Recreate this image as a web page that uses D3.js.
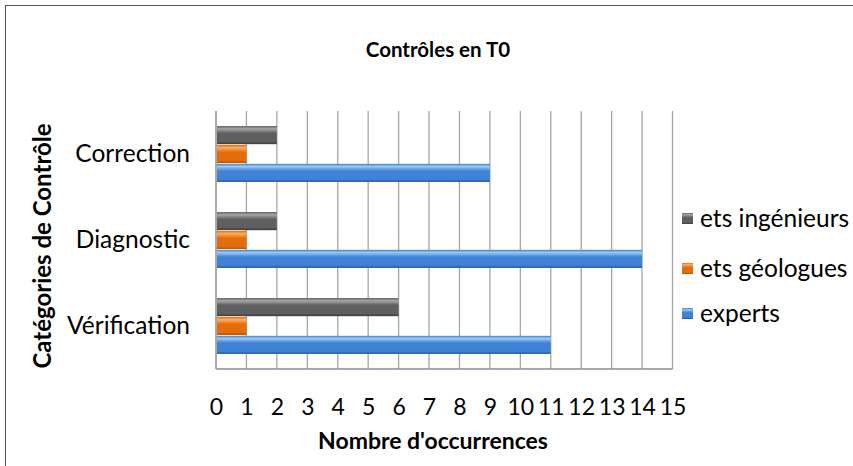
<!DOCTYPE html>
<html>
<head>
<meta charset="utf-8">
<script src="https://cdn.jsdelivr.net/npm/d3@7"></script>
<style>
body { margin: 0; background: #fff; }
text { font-family: Lato, "Open Sans", sans-serif; fill: #000; }
</style>
</head>
<body>
<script>
// data
var categories = ["Correction", "Diagnostic", "Vérification"];
var series = ["ets ingénieurs", "ets géologues", "experts"];
var ingenieurs = [2, 2, 6];
var geologues = [1, 1, 1];
var experts = [9, 14, 11];
var xTicks = [0,1,2,3,4,5,6,7,8,9,10,11,12,13,14,15];

var values = [ingenieurs, geologues, experts];
var colors = [
	{id: "g0", top: "#a6a6a6", mid: "#5f5f5f", bot: "#3a3a3a"},
	{id: "g1", top: "#fbb060", mid: "#e46c0a", bot: "#b35306"},
	{id: "g2", top: "#9cc8f6", mid: "#3f82d6", bot: "#28579c"}
];

var W = 853, H = 466;
var svg = d3.select("body").append("svg")
	.attr("width", W)
	.attr("height", H);

// outer frame
svg.append("rect")
	.attr("x", 5.5).attr("y", 5.5)
	.attr("width", W).attr("height", H)
	.style("fill", "none").style("stroke", "#555").style("stroke-width", 1);

var defs = svg.append("defs");
colors.forEach(function(c) {
	var g = defs.append("linearGradient").attr("id", c.id)
		.attr("x1", 0).attr("y1", 0).attr("x2", 0).attr("y2", 1);
	g.append("stop").attr("offset", "0%").attr("stop-color", c.mid);
	g.append("stop").attr("offset", "15%").attr("stop-color", c.top);
	g.append("stop").attr("offset", "40%").attr("stop-color", c.mid);
	g.append("stop").attr("offset", "85%").attr("stop-color", c.mid);
	g.append("stop").attr("offset", "100%").attr("stop-color", c.bot);
});

var pLeft = 216, pRight = 672.5, pTop = 111, pBottom = 369;

var x = d3.scaleLinear().domain([0, 15]).range([pLeft, pRight]);
var y = d3.scaleBand().domain(categories).range([pTop, pBottom])
	.paddingInner(0.35).paddingOuter(0.175);
var ySub = d3.scaleBand().domain(series).range([0, y.bandwidth()]).paddingInner(0.04);

// gridlines
svg.append("g").selectAll("line")
	.data(xTicks.slice(1))
	.enter().append("line")
	.attr("x1", function(d) { return x(d); })
	.attr("x2", function(d) { return x(d); })
	.attr("y1", pTop).attr("y2", pBottom)
	.style("stroke", "#a6a6a6").style("stroke-width", 1.3);

// bars
var groups = svg.append("g").selectAll("g")
	.data(categories)
	.enter().append("g")
	.attr("transform", function(d) { return "translate(0," + y(d) + ")"; });

groups.selectAll("rect")
	.data(function(d, i) {
		return series.map(function(s, j) { return {s: s, v: values[j][i], j: j}; });
	})
	.enter().append("rect")
	.attr("x", x(0) + 1)
	.attr("y", function(d) { return ySub(d.s); })
	.attr("width", function(d) { return x(d.v) - x(0) - 1; })
	.attr("height", ySub.bandwidth())
	.style("fill", function(d) { return "url(#" + colors[d.j].id + ")"; });

// axis lines
svg.append("line").attr("x1", pLeft).attr("x2", pLeft).attr("y1", pTop).attr("y2", pBottom)
	.style("stroke", "#8c8c8c").style("stroke-width", 1.5);
svg.append("line").attr("x1", pLeft).attr("x2", pRight).attr("y1", pBottom).attr("y2", pBottom)
	.style("stroke", "#8c8c8c").style("stroke-width", 1.5);

// x tick labels
var xAxis = d3.axisBottom(x).tickValues(xTicks).tickSize(0).tickPadding(0);
var xg = svg.append("g").attr("transform", "translate(0," + 397 + ")").call(xAxis);
xg.select(".domain").remove();
xg.selectAll("text").style("font-size", "23px").style("font-family", "Lato, sans-serif")
	.attr("dy", "0.78em").attr("y", 0);

// category labels
var yAxis = d3.axisLeft(y).tickSize(0).tickPadding(0);
var yg = svg.append("g").attr("transform", "translate(190,0)").call(yAxis);
yg.select(".domain").remove();
yg.selectAll("text").style("font-size", "24.5px").style("font-family", "Lato, sans-serif");

// titles
svg.append("text").attr("x", 438).attr("y", 57)
	.attr("text-anchor", "middle")
	.style("font-size", "20.5px").style("font-weight", "bold")
	.text("Contrôles en T0");

svg.append("text").attr("x", 433).attr("y", 449)
	.attr("text-anchor", "middle")
	.style("font-size", "23px").style("font-weight", "bold")
	.text("Nombre d'occurrences");

svg.append("text")
	.attr("transform", "translate(51,246) rotate(-90)")
	.attr("text-anchor", "middle")
	.style("font-size", "24px").style("font-weight", "bold")
	.text("Catégories de Contrôle");

// legend
var legY = [218, 268, 313];
var leg = svg.append("g").selectAll("g")
	.data(series)
	.enter().append("g")
	.attr("transform", function(d, i) { return "translate(682," + legY[i] + ")"; });
leg.append("rect")
	.attr("x", 0).attr("y", -5).attr("width", 11).attr("height", 11)
	.style("fill", function(d, i) { return "url(#" + colors[i].id + ")"; });
leg.append("text")
	.attr("x", 18).attr("y", 0).attr("dy", "0.35em")
	.style("font-size", "24.5px")
	.text(function(d) { return d; });
</script>
</body>
</html>
